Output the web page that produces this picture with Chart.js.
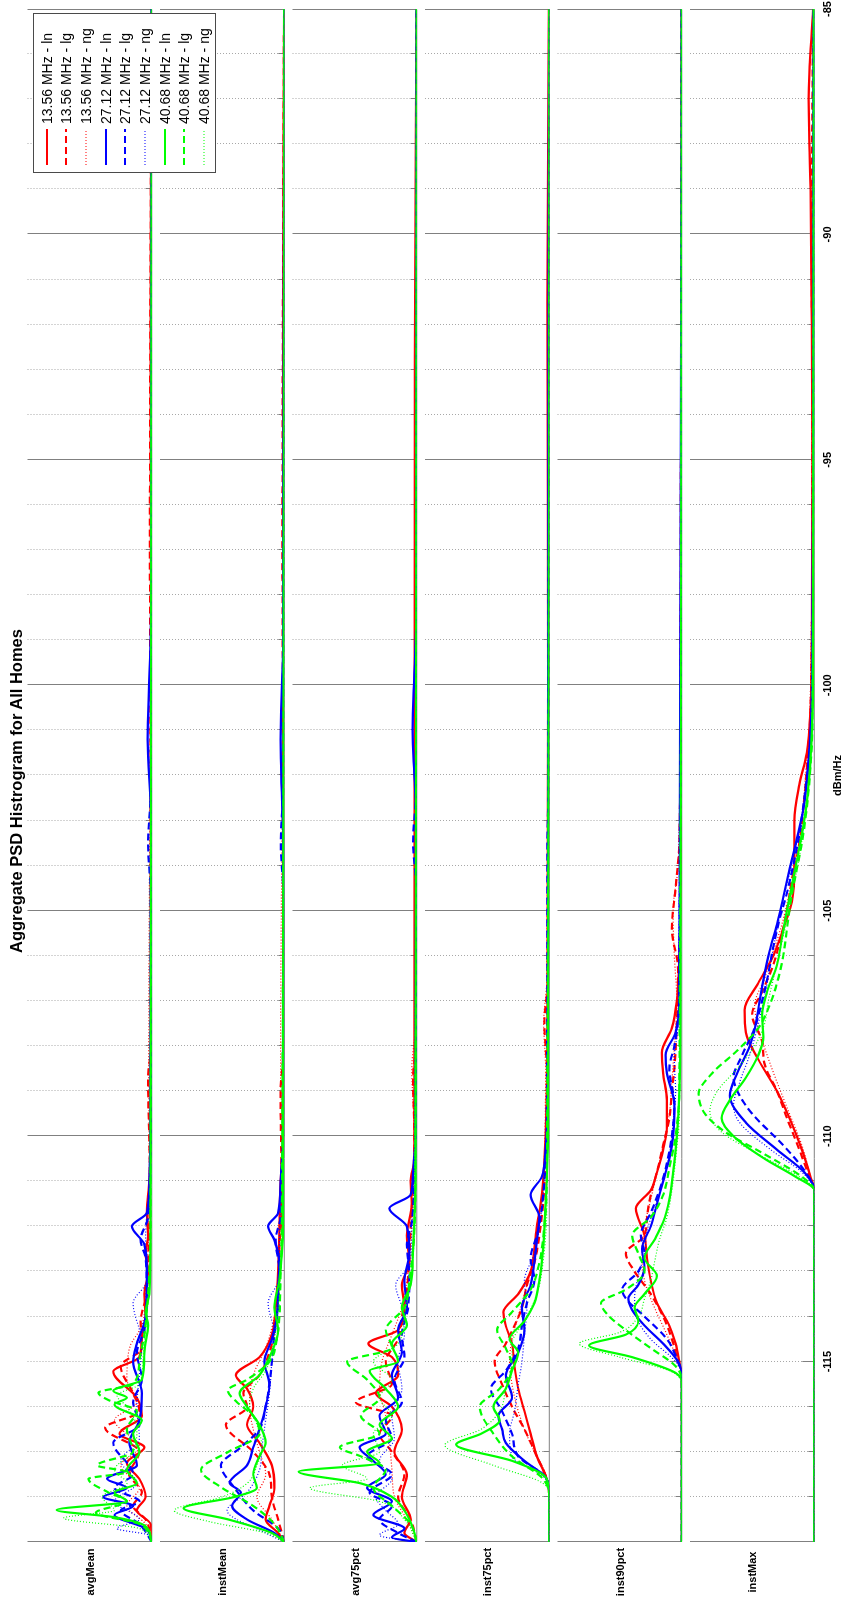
<!DOCTYPE html>
<html>
<head>
<meta charset="utf-8">
<title>Aggregate PSD Histrogram for All Homes</title>
<script src="https://cdn.jsdelivr.net/npm/chart.js@4.4.1/dist/chart.umd.min.js"></script>
<style>
  html, body { margin:0; padding:0; background:#fff; }
  body { width:841px; height:1602px; overflow:hidden; position:relative; }
  /* The figure is laid out landscape and turned a quarter turn counter-clockwise */
  #figure { position:absolute; left:0; top:0; width:1602px; height:841px; background:#fff;
    transform-origin:0 0; transform:translate(0px,1602px) rotate(-90deg);
    font-family:"Liberation Sans", Arial, Helvetica, sans-serif; color:#000; overflow:hidden; }
  #figure canvas { position:absolute; left:0; }
  .fig-title { position:absolute; font-weight:bold; font-size:16.5px; white-space:nowrap; transform:translateX(-50%); }
  .panel-label { position:absolute; font-weight:bold; font-size:11px; white-space:nowrap; transform:translate(-50%,-50%); }
  #legend { position:absolute; border:1px solid #4a4a4a; background:#fff; box-sizing:border-box; z-index:5; }
  .legend-row { position:absolute; left:0; height:20px; width:100%; }
  .legend-row svg { position:absolute; left:6px; top:0; }
  .legend-row span { position:absolute; left:48px; top:0; line-height:20px; font-size:14px; white-space:nowrap; }
</style>
</head>
<body>
<div id="figure"></div>
<script>
// ---- labels ----
const TITLE = 'Aggregate PSD Histrogram for All Homes';
const PANELS = ['avgMean', 'instMean', 'avg75pct', 'inst75pct', 'inst90pct', 'instMax'];
const SERIES = ['13.56 MHz - ln', '13.56 MHz - lg', '13.56 MHz - ng',
                '27.12 MHz - ln', '27.12 MHz - lg', '27.12 MHz - ng',
                '40.68 MHz - ln', '40.68 MHz - lg', '40.68 MHz - ng'];
const X_LABEL = 'dBm/Hz';
const X_MIN = -119, X_MAX = -85;
const X_TICKS = [-115, -110, -105, -100, -95, -90, -85];
const SOLID_GRID = [-110, -105, -100, -95, -90];

// ---- histogram densities, [dBm/Hz, density] per series (order as SERIES) ----
const avgMean = [
  [[-119,0],[-118.6,0.01],[-118.3,0.12],[-118,0.05],[-117.6,0.1],[-117.25,0.2],[-116.9,0.06],[-116.6,0.26],[-116.2,0.08],[-115.8,0.12],[-115.22,0.31],[-114.9,0.1],[-114.5,0.08],[-114,0.05],[-113.5,0.06],[-113,0.03],[-112.6,0.05],[-112.2,0.03],[-111.7,0.04],[-111,0.02],[-110,0.01],[-108,0.01],[-100,0.005],[-92.5,0.01],[-85,0.002]],
  [[-119,0],[-118.5,0.05],[-118.2,0.15],[-117.9,0.08],[-117.5,0.18],[-117,0.1],[-116.47,0.376],[-116.1,0.1],[-115.7,0.15],[-115.1,0.25],[-114.7,0.08],[-114.1,0.09],[-113.5,0.04],[-112.8,0.03],[-112,0.02],[-111,0.015],[-108.7,0.03],[-108,0.005],[-100,0.012],[-97,0.015],[-85,0.002]],
  [[-119,0],[-118.6,0.05],[-118.2,0.2],[-117.8,0.1],[-117.3,0.25],[-116.9,0.1],[-116.3,0.3],[-115.9,0.12],[-115.4,0.2],[-114.7,0.18],[-114.2,0.08],[-113.5,0.05],[-112.5,0.03],[-111,0.02],[-108.5,0.025],[-100,0.01],[-85,0.003]],
  [[-119,0],[-118.7,0.05],[-118.4,0.3],[-118.2,0.15],[-118,0.39],[-117.8,0.2],[-117.6,0.36],[-117.3,0.12],[-116.8,0.18],[-116.3,0.1],[-115.7,0.08],[-115,0.15],[-114.6,0.12],[-114,0.05],[-113,0.04],[-112.4,0.06],[-112,0.16],[-111.7,0.04],[-111,0.02],[-110,0.01],[-103,0.005],[-101.2,0.034],[-99,0.01],[-97,0.005],[-85,0.001]],
  [[-119,0],[-118.6,0.1],[-118.3,0.25],[-118.1,0.1],[-117.8,0.3],[-117.5,0.15],[-116.8,0.31],[-116.4,0.1],[-115.9,0.15],[-115.4,0.08],[-114.8,0.12],[-114.3,0.06],[-113.5,0.04],[-112.7,0.05],[-112.3,0.09],[-111.8,0.03],[-110,0.01],[-104.6,0.01],[-103.5,0.03],[-102.4,0.01],[-85,0.001]],
  [[-119,0],[-118.85,0.02],[-118.7,0.28],[-118.5,0.1],[-118.1,0.3],[-117.7,0.12],[-117.2,0.25],[-116.7,0.1],[-116,0.12],[-115.3,0.1],[-114.6,0.08],[-113.7,0.15],[-113.2,0.04],[-112.3,0.05],[-111,0.02],[-110,0.01],[-85,0.002]],
  [[-119,0],[-118.65,0.05],[-118.45,0.3],[-118.29,0.765],[-118.1,0.2],[-117.9,0.3],[-117.7,0.12],[-117.4,0.2],[-117,0.1],[-116.6,0.15],[-116.3,0.08],[-115.95,0.3],[-115.8,0.2],[-115.65,0.31],[-115.4,0.08],[-114.8,0.06],[-114.2,0.03],[-113.9,0.05],[-113.5,0.02],[-112,0.01],[-85,0]],
  [[-119,0],[-118.6,0.1],[-118.35,0.45],[-118.1,0.2],[-117.9,0.35],[-117.6,0.51],[-117.45,0.2],[-117.3,0.44],[-117,0.15],[-116.5,0.2],[-116.1,0.12],[-115.85,0.35],[-115.69,0.43],[-115.5,0.15],[-115,0.1],[-114.4,0.06],[-113.5,0.03],[-112,0.01],[-85,0]],
  [[-119,0],[-118.7,0.1],[-118.47,0.71],[-118.3,0.3],[-118,0.4],[-117.7,0.2],[-117.4,0.3],[-117,0.15],[-116.5,0.12],[-116,0.2],[-115.75,0.28],[-115.5,0.1],[-114.9,0.07],[-114,0.04],[-113,0.02],[-111,0.01],[-85,0]]
];
const instMean = [
  [[-119,0],[-118.8,0.05],[-118.5,0.15],[-118.2,0.12],[-117.8,0.08],[-117.3,0.1],[-116.8,0.2],[-116.4,0.3],[-116,0.25],[-115.6,0.3],[-115.3,0.39],[-114.9,0.2],[-114.4,0.1],[-113.8,0.07],[-113,0.05],[-112,0.04],[-111,0.03],[-110,0.01],[-92.8,0.01],[-85,0.002]],
  [[-119,0],[-118.5,0.05],[-118,0.1],[-117.5,0.12],[-117,0.25],[-116.4,0.47],[-116,0.3],[-115.7,0.33],[-115.3,0.2],[-114.8,0.12],[-114.3,0.08],[-113.5,0.05],[-112.5,0.04],[-111.5,0.02],[-109,0.03],[-108.2,0.01],[-100,0.012],[-97,0.015],[-85,0.002]],
  [[-119,0],[-118.5,0.1],[-118,0.22],[-117.5,0.15],[-117,0.2],[-116.5,0.25],[-116,0.28],[-115.3,0.25],[-114.7,0.15],[-114,0.08],[-113,0.05],[-112,0.03],[-110,0.015],[-108.5,0.03],[-100,0.01],[-85,0.002]],
  [[-119,0],[-118.8,0.08],[-118.5,0.3],[-118.2,0.42],[-117.9,0.35],[-117.69,0.44],[-117.3,0.3],[-116.9,0.25],[-116.5,0.2],[-116,0.15],[-115.5,0.12],[-115,0.16],[-114.5,0.1],[-114,0.06],[-113.4,0.05],[-112.8,0.04],[-112.3,0.08],[-112,0.13],[-111.7,0.05],[-111,0.03],[-110,0.01],[-104,0.005],[-101.2,0.03],[-99,0.01],[-85,0.001]],
  [[-119,0],[-118.7,0.05],[-118.3,0.25],[-117.8,0.4],[-117.3,0.51],[-116.9,0.35],[-116.5,0.2],[-116,0.15],[-115.5,0.12],[-115,0.1],[-114.4,0.08],[-113.8,0.05],[-113,0.04],[-112.3,0.07],[-111.8,0.03],[-110,0.01],[-104.6,0.01],[-103.5,0.028],[-102.3,0.01],[-85,0.001]],
  [[-119,0],[-118.8,0.15],[-118.3,0.46],[-117.9,0.3],[-117.4,0.2],[-116.9,0.18],[-116.3,0.15],[-115.7,0.12],[-115,0.1],[-114.4,0.08],[-113.7,0.13],[-113.2,0.05],[-112.3,0.04],[-111,0.02],[-85,0.002]],
  [[-119,0],[-118.8,0.1],[-118.5,0.45],[-118.25,0.81],[-118,0.4],[-117.8,0.22],[-117.5,0.25],[-117.1,0.2],[-116.8,0.15],[-116.4,0.2],[-116,0.3],[-115.7,0.36],[-115.3,0.2],[-114.9,0.12],[-114.3,0.05],[-113.8,0.08],[-113.2,0.04],[-112.6,0.02],[-112,0.01],[-85,0]],
  [[-119,0],[-118.6,0.08],[-118.2,0.25],[-117.8,0.5],[-117.4,0.67],[-117,0.45],[-116.6,0.2],[-116.2,0.25],[-115.9,0.38],[-115.64,0.455],[-115.4,0.3],[-115,0.12],[-114.5,0.06],[-114,0.04],[-113,0.03],[-112,0.02],[-85,0]],
  [[-119,0],[-118.8,0.15],[-118.55,0.6],[-118.3,0.885],[-118,0.5],[-117.7,0.3],[-117.3,0.22],[-116.9,0.18],[-116.4,0.22],[-116,0.28],[-115.6,0.25],[-115.2,0.15],[-114.5,0.08],[-113.5,0.04],[-112,0.02],[-85,0]]
];
const avg75pct = [
  [[-119,0],[-118.8,0.1],[-118.5,0.05],[-118,0.12],[-117.5,0.08],[-117,0.18],[-116.5,0.12],[-116,0.2],[-115.7,0.33],[-115.3,0.15],[-114.9,0.2],[-114.6,0.39],[-114.3,0.15],[-113.8,0.1],[-113.3,0.12],[-112.8,0.06],[-112.2,0.08],[-111.5,0.04],[-111,0.05],[-110.5,0.02],[-110,0.02],[-92.8,0.015],[-85,0.002]],
  [[-119,0],[-118.5,0.05],[-118,0.15],[-117.5,0.1],[-117,0.2],[-116.6,0.3],[-116.2,0.2],[-115.9,0.49],[-115.5,0.2],[-115,0.25],[-114.5,0.15],[-114,0.12],[-113.4,0.08],[-112.7,0.06],[-112,0.05],[-111,0.03],[-110,0.02],[-108.7,0.03],[-108,0.01],[-100,0.01],[-85,0.002]],
  [[-119,0],[-118.5,0.08],[-118,0.18],[-117.4,0.2],[-116.8,0.22],[-116.2,0.25],[-115.6,0.3],[-115,0.28],[-114.4,0.2],[-113.8,0.12],[-113,0.07],[-112,0.04],[-110,0.02],[-108.5,0.04],[-107.5,0.01],[-100,0.01],[-85,0.003]],
  [[-119,0],[-118.9,0.2],[-118.7,0.1],[-118.4,0.35],[-118.1,0.2],[-117.8,0.4],[-117.5,0.25],[-117.2,0.35],[-116.9,0.46],[-116.6,0.25],[-116.2,0.3],[-115.8,0.15],[-115.3,0.2],[-114.8,0.12],[-114.3,0.15],[-113.8,0.08],[-113.2,0.1],[-112.6,0.06],[-112,0.08],[-111.6,0.22],[-111.3,0.05],[-110.8,0.03],[-110,0.01],[-103,0.005],[-101,0.034],[-98.5,0.005],[-85,0.001]],
  [[-119,0],[-118.8,0.15],[-118.5,0.3],[-118.2,0.2],[-117.9,0.38],[-117.5,0.2],[-117.1,0.4],[-116.7,0.2],[-116.3,0.25],[-115.9,0.12],[-115.4,0.18],[-114.9,0.1],[-114.4,0.12],[-113.8,0.07],[-113.1,0.06],[-112.4,0.08],[-111.9,0.04],[-111,0.02],[-110,0.01],[-104.5,0.005],[-103.5,0.03],[-102.3,0.005],[-85,0.001]],
  [[-119,0],[-118.85,0.3],[-118.6,0.15],[-118.3,0.25],[-118,0.33],[-117.6,0.2],[-117.2,0.3],[-116.7,0.18],[-116.2,0.2],[-115.6,0.12],[-115,0.15],[-114.4,0.1],[-113.8,0.12],[-113.3,0.17],[-112.8,0.05],[-112,0.04],[-111,0.02],[-85,0.002]],
  [[-119,0],[-118.7,0.03],[-118.3,0.1],[-118,0.2],[-117.7,0.45],[-117.44,0.95],[-117.25,0.3],[-117,0.4],[-116.7,0.2],[-116.4,0.3],[-116,0.15],[-115.6,0.25],[-115.2,0.38],[-115,0.15],[-114.6,0.2],[-114.2,0.08],[-113.8,0.12],[-113.3,0.05],[-112.5,0.03],[-111,0.01],[-85,0]],
  [[-119,0],[-118.6,0.05],[-118.2,0.2],[-117.8,0.35],[-117.4,0.25],[-117.1,0.45],[-116.9,0.62],[-116.6,0.3],[-116.2,0.45],[-115.8,0.3],[-115.4,0.4],[-115,0.56],[-114.7,0.2],[-114.3,0.25],[-113.8,0.1],[-113.2,0.06],[-112.5,0.03],[-111,0.01],[-85,0]],
  [[-119,0],[-118.5,0.1],[-118.1,0.3],[-117.8,0.86],[-117.6,0.4],[-117.3,0.6],[-117,0.3],[-116.6,0.35],[-116.2,0.2],[-115.8,0.3],[-115.4,0.2],[-115,0.35],[-114.6,0.15],[-114,0.1],[-113.2,0.05],[-112,0.02],[-85,0]]
];
const inst75pct = [
  [[-119,0],[-118,0],[-117.6,0.02],[-117.1,0.1],[-116.6,0.15],[-116.1,0.2],[-115.6,0.25],[-115.1,0.28],[-114.6,0.3],[-114.2,0.35],[-113.9,0.37],[-113.5,0.25],[-113,0.15],[-112.5,0.12],[-112,0.1],[-111.5,0.07],[-111,0.05],[-110,0.03],[-109,0.02],[-108,0.015],[-100,0.01],[-91.5,0.015],[-85,0.003]],
  [[-119,0],[-118,0],[-117.6,0.02],[-117.1,0.1],[-116.5,0.2],[-116,0.3],[-115.5,0.38],[-115,0.44],[-114.6,0.35],[-114.2,0.28],[-113.8,0.22],[-113.3,0.18],[-112.8,0.12],[-112.2,0.08],[-111.5,0.05],[-110.5,0.03],[-108.5,0.02],[-107.5,0.04],[-106.5,0.01],[-85,0.002]],
  [[-119,0],[-118,0],[-117.5,0.03],[-117,0.12],[-116.5,0.2],[-116,0.26],[-115.5,0.3],[-115,0.32],[-114.5,0.3],[-114,0.25],[-113.5,0.2],[-113,0.15],[-112.3,0.1],[-111.5,0.06],[-110.5,0.04],[-108.5,0.03],[-107.5,0.045],[-106.5,0.02],[-85,0.003]],
  [[-119,0],[-118,0],[-117.6,0.02],[-117.2,0.2],[-116.8,0.35],[-116.5,0.38],[-116.2,0.41],[-115.8,0.3],[-115.3,0.35],[-114.8,0.25],[-114.3,0.2],[-113.8,0.22],[-113.3,0.15],[-112.8,0.12],[-112.3,0.1],[-111.8,0.08],[-111.3,0.15],[-110.9,0.06],[-110.3,0.03],[-109,0.01],[-101,0.01],[-85,0.001]],
  [[-119,0],[-118,0],[-117.6,0.02],[-117.1,0.25],[-116.6,0.3],[-116.1,0.38],[-115.6,0.47],[-115.2,0.35],[-114.7,0.25],[-114.2,0.22],[-113.7,0.18],[-113.2,0.12],[-112.7,0.15],[-112.2,0.1],[-111.6,0.06],[-111,0.04],[-110,0.02],[-103.5,0.015],[-102,0.005],[-85,0.001]],
  [[-119,0],[-118,0],[-117.6,0.03],[-117.1,0.3],[-116.6,0.32],[-116.1,0.28],[-115.5,0.25],[-115,0.22],[-114.4,0.2],[-113.8,0.18],[-113.2,0.2],[-112.6,0.12],[-112,0.08],[-111.3,0.05],[-110.5,0.03],[-109,0.01],[-85,0.001]],
  [[-119,0],[-118,0],[-117.6,0.02],[-117.2,0.3],[-116.84,0.75],[-116.6,0.55],[-116.3,0.4],[-116,0.45],[-115.6,0.35],[-115.2,0.3],[-114.8,0.25],[-114.5,0.32],[-114.1,0.2],[-113.7,0.12],[-113.2,0.08],[-112.5,0.05],[-111.5,0.03],[-110,0.01],[-85,0]],
  [[-119,0],[-118,0],[-117.6,0.05],[-117.1,0.3],[-116.6,0.45],[-116,0.56],[-115.6,0.4],[-115.1,0.3],[-114.7,0.35],[-114.3,0.42],[-113.9,0.3],[-113.4,0.15],[-112.8,0.08],[-112,0.04],[-111,0.02],[-85,0]],
  [[-119,0],[-118,0],[-117.7,0.05],[-117.3,0.45],[-116.85,0.84],[-116.5,0.55],[-116.1,0.4],[-115.6,0.35],[-115.1,0.3],[-114.6,0.3],[-114.1,0.2],[-113.5,0.1],[-112.8,0.05],[-111.5,0.02],[-85,0]]
];
const inst90pct = [
  [[-119,0],[-115.3,0],[-115,0.02],[-114.6,0.05],[-114.2,0.1],[-113.7,0.2],[-113.2,0.25],[-112.7,0.28],[-112.2,0.3],[-111.6,0.37],[-111.2,0.25],[-110.8,0.2],[-110.3,0.15],[-109.8,0.12],[-109.2,0.12],[-108.6,0.15],[-108.15,0.16],[-107.6,0.08],[-107,0.04],[-106,0.02],[-104,0.01],[-85,0.002]],
  [[-119,0],[-115.3,0],[-115,0.03],[-114.5,0.08],[-114,0.15],[-113.5,0.25],[-113,0.38],[-112.6,0.45],[-112.2,0.3],[-111.8,0.28],[-111.3,0.25],[-110.8,0.2],[-110.2,0.15],[-109.6,0.1],[-109,0.08],[-108.5,0.06],[-107.5,0.04],[-106.3,0.03],[-105.4,0.08],[-104.5,0.05],[-103.5,0.02],[-100,0.01],[-85,0.002]],
  [[-119,0],[-115.3,0],[-115,0.03],[-114.4,0.12],[-113.8,0.22],[-113.2,0.3],[-112.6,0.32],[-112,0.3],[-111.4,0.25],[-110.8,0.2],[-110.2,0.15],[-109.5,0.1],[-108.8,0.08],[-108,0.06],[-107,0.04],[-106,0.06],[-105,0.07],[-104,0.03],[-100,0.01],[-85,0.003]],
  [[-119,0],[-115.3,0],[-115,0.03],[-114.6,0.15],[-114.2,0.3],[-113.85,0.4],[-113.6,0.43],[-113.3,0.35],[-112.9,0.3],[-112.5,0.32],[-112,0.25],[-111.5,0.2],[-111,0.15],[-110.5,0.1],[-110,0.07],[-109.3,0.06],[-108.6,0.12],[-108.2,0.13],[-107.7,0.05],[-107,0.02],[-85,0.001]],
  [[-119,0],[-115.3,0],[-115,0.03],[-114.5,0.12],[-114,0.3],[-113.6,0.45],[-113.4,0.48],[-113,0.35],[-112.6,0.3],[-112.2,0.33],[-111.7,0.25],[-111.2,0.18],[-110.6,0.12],[-110,0.08],[-109.3,0.06],[-108.5,0.1],[-108,0.06],[-107,0.02],[-85,0.001]],
  [[-119,0],[-115.3,0],[-115,0.05],[-114.5,0.25],[-114.1,0.35],[-113.6,0.38],[-113.1,0.35],[-112.6,0.3],[-112.1,0.28],[-111.6,0.22],[-111,0.15],[-110.4,0.1],[-109.7,0.07],[-109,0.05],[-108.3,0.06],[-107.5,0.03],[-85,0.001]],
  [[-119,0],[-115.5,0],[-115.25,0.05],[-114.9,0.4],[-114.64,0.745],[-114.4,0.45],[-114.1,0.35],[-113.8,0.38],[-113.5,0.3],[-113.1,0.2],[-112.7,0.3],[-112.3,0.22],[-111.9,0.15],[-111.4,0.1],[-110.8,0.07],[-110,0.04],[-109,0.02],[-107,0.01],[-85,0]],
  [[-119,0],[-115.4,0],[-115.1,0.05],[-114.7,0.25],[-114.3,0.45],[-113.95,0.6],[-113.7,0.65],[-113.4,0.45],[-113,0.3],[-112.6,0.35],[-112.2,0.4],[-111.8,0.25],[-111.3,0.15],[-110.7,0.1],[-110,0.05],[-109,0.02],[-85,0]],
  [[-119,0],[-115.5,0],[-115.2,0.1],[-114.9,0.5],[-114.6,0.825],[-114.35,0.5],[-114,0.35],[-113.6,0.3],[-113.2,0.25],[-112.8,0.22],[-112.3,0.18],[-111.8,0.12],[-111.2,0.08],[-110.5,0.05],[-109.5,0.02],[-85,0]]
];
const instMax = [
  [[-119,0],[-111.2,0],[-110.9,0.03],[-110.3,0.1],[-109.6,0.2],[-109,0.3],[-108.3,0.45],[-107.7,0.55],[-107.2,0.56],[-106.6,0.45],[-106,0.33],[-105.4,0.25],[-104.8,0.18],[-104,0.16],[-103,0.16],[-102.2,0.12],[-101.5,0.06],[-100.5,0.03],[-99,0.02],[-95,0.015],[-92,0.02],[-89,0.03],[-87,0.045],[-85,0.01]],
  [[-119,0],[-111.2,0],[-110.9,0.04],[-110.3,0.12],[-109.6,0.22],[-109,0.3],[-108.4,0.4],[-107.9,0.42],[-107.3,0.5],[-106.8,0.42],[-106.2,0.33],[-105.6,0.27],[-105,0.22],[-104.3,0.18],[-103.5,0.12],[-102.5,0.08],[-101.5,0.05],[-100.5,0.03],[-99,0.02],[-95,0.015],[-90,0.02],[-85,0.01]],
  [[-119,0],[-111.2,0],[-110.9,0.03],[-110.2,0.1],[-109.5,0.2],[-108.8,0.3],[-108.2,0.38],[-107.6,0.45],[-107.1,0.48],[-106.5,0.4],[-105.9,0.33],[-105.3,0.26],[-104.6,0.2],[-104,0.15],[-103,0.1],[-102,0.07],[-101,0.04],[-100,0.03],[-97,0.02],[-93,0.02],[-89,0.015],[-85,0.01]],
  [[-119,0],[-111.2,0],[-110.8,0.08],[-110.3,0.3],[-109.7,0.55],[-109.1,0.68],[-108.6,0.62],[-108,0.52],[-107.5,0.47],[-107,0.44],[-106.4,0.4],[-105.9,0.36],[-105.3,0.3],[-104.7,0.25],[-104.1,0.2],[-103.4,0.14],[-102.6,0.08],[-101.8,0.05],[-101,0.03],[-99,0.015],[-94,0.01],[-85,0.005]],
  [[-119,0],[-111.2,0],[-110.8,0.07],[-110.2,0.25],[-109.5,0.5],[-109,0.62],[-108.7,0.65],[-108.2,0.58],[-107.6,0.48],[-107,0.42],[-106.4,0.37],[-105.8,0.33],[-105.2,0.28],[-104.6,0.22],[-104,0.17],[-103.3,0.12],[-102.5,0.08],[-101.5,0.04],[-100.5,0.02],[-98,0.01],[-85,0.005]],
  [[-119,0],[-111.2,0],[-110.8,0.1],[-110.3,0.35],[-109.7,0.6],[-109.33,0.65],[-108.8,0.6],[-108.2,0.52],[-107.5,0.45],[-106.9,0.4],[-106.3,0.36],[-105.7,0.32],[-105,0.27],[-104.4,0.22],[-103.7,0.16],[-103,0.1],[-102.2,0.06],[-101.3,0.03],[-100,0.015],[-85,0.005]],
  [[-119,0],[-111.2,0],[-110.9,0.15],[-110.5,0.4],[-110,0.65],[-109.6,0.745],[-109.2,0.68],[-108.7,0.55],[-108.2,0.45],[-107.8,0.41],[-107.3,0.42],[-106.8,0.38],[-106.2,0.3],[-105.6,0.26],[-105,0.22],[-104.3,0.17],[-103.6,0.12],[-102.8,0.07],[-102,0.04],[-101,0.02],[-100,0.01],[-85,0.003]],
  [[-119,0],[-111.2,0],[-110.9,0.1],[-110.4,0.4],[-109.9,0.72],[-109.5,0.88],[-109.06,0.93],[-108.6,0.82],[-108.1,0.62],[-107.6,0.45],[-107.1,0.36],[-106.6,0.3],[-106,0.25],[-105.4,0.22],[-104.8,0.19],[-104.2,0.15],[-103.5,0.1],[-102.7,0.06],[-101.8,0.03],[-100.8,0.015],[-85,0.003]],
  [[-119,0],[-111.2,0],[-110.9,0.12],[-110.4,0.45],[-109.9,0.75],[-109.44,0.84],[-109,0.78],[-108.5,0.62],[-108,0.48],[-107.5,0.4],[-107,0.37],[-106.4,0.32],[-105.8,0.27],[-105.2,0.22],[-104.5,0.17],[-103.8,0.12],[-103,0.08],[-102,0.04],[-101,0.02],[-85,0.003]]
];
const PANEL_DATA = [avgMean, instMean, avg75pct, inst75pct, inst90pct, instMax];

// ---- series styles: red / blue / green, solid / dashed / dotted ----
const COLORS = ['#ff0000', '#ff0000', '#ff0000', '#0000ff', '#0000ff', '#0000ff', '#00ff00', '#00ff00', '#00ff00'];
const DASHES = [[], [7, 4], [1, 2], [], [7, 4], [1, 2], [], [7, 4], [1, 2]];
const WIDTHS = [2.2, 2.2, 1.2, 2.2, 2.2, 1.2, 2.2, 2.2, 1.2];

// ---- geometry of the landscape figure (px) ----
const FIG_W = 1602;
const PLOT_LEFT = 60, PLOT_RIGHT = 1593;
const PANEL_TOP0 = 27.5, PANEL_STEP = 132.5, PANEL_H = 124.3;
const AXIS_H = 30.5;
const FONT = '"Liberation Sans", Arial, Helvetica, sans-serif';

// grid, inward tick marks and frame edges of each panel
const panelFrame = {
  id: 'panelFrame',
  beforeDatasetsDraw(chart) {
    const { ctx, chartArea: a, scales: { x } } = chart;
    ctx.save();
    ctx.lineWidth = 1;
    for (let v = X_MIN + 1; v < X_MAX; v++) {
      const px = Math.round(x.getPixelForValue(v)) + 0.5;
      const solid = SOLID_GRID.includes(v);
      ctx.strokeStyle = solid ? '#808080' : '#a8a8a8';
      ctx.setLineDash(solid ? [] : [1, 2]);
      ctx.beginPath(); ctx.moveTo(px, a.top); ctx.lineTo(px, a.bottom); ctx.stroke();
      ctx.setLineDash([]);
      ctx.strokeStyle = '#808080';
      const len = v % 5 === 0 ? 12 : 6;
      ctx.beginPath(); ctx.moveTo(px, a.bottom); ctx.lineTo(px, a.bottom - len); ctx.stroke();
    }
    const l = Math.round(x.getPixelForValue(X_MIN)) + 0.5;
    const r = Math.round(x.getPixelForValue(X_MAX)) - 0.5;
    ctx.strokeStyle = '#808080';
    ctx.beginPath();
    ctx.moveTo(l, a.top); ctx.lineTo(l, a.bottom);
    ctx.moveTo(r, a.top); ctx.lineTo(r, a.bottom);
    ctx.moveTo(l, a.bottom); ctx.lineTo(r, a.bottom);
    ctx.stroke();
    ctx.restore();
  }
};

const fig = document.getElementById('figure');

PANELS.forEach((name, p) => {
  const last = p === PANELS.length - 1;
  const top = PANEL_TOP0 + p * PANEL_STEP;
  const cTop = Math.floor(top) - 4;
  const padTop = top - cTop;
  const extra = last ? AXIS_H : 5;
  const cH = Math.ceil(padTop + PANEL_H + extra);
  const padBottom = cH - padTop - PANEL_H - (last ? AXIS_H : 0);

  const canvas = document.createElement('canvas');
  canvas.width = FIG_W; canvas.height = cH;
  canvas.style.top = cTop + 'px';
  canvas.style.width = FIG_W + 'px'; canvas.style.height = cH + 'px';
  fig.appendChild(canvas);

  const xScale = {
    type: 'linear', min: X_MIN, max: X_MAX, position: 'bottom', display: last,
    grid: { display: false, drawTicks: false },
    border: { display: false },
    ticks: { color: '#000', font: { family: FONT, size: 11, weight: 'bold' }, padding: 7, maxRotation: 0, autoSkip: false },
    title: { display: true, text: X_LABEL, color: '#000', font: { family: FONT, size: 11, weight: 'bold' }, padding: 0 }
  };
  if (last) {
    xScale.afterBuildTicks = axis => { axis.ticks = X_TICKS.map(v => ({ value: v })); };
    xScale.afterFit = axis => { axis.height = AXIS_H; axis.paddingLeft = 0; axis.paddingRight = 0; };
  }

  new Chart(canvas, {
    type: 'line',
    data: {
      datasets: PANEL_DATA[p].map((pts, k) => ({
        label: SERIES[k],
        data: pts.map(([x, y]) => ({ x, y })),
        borderColor: COLORS[k],
        borderWidth: WIDTHS[k],
        borderDash: DASHES[k],
        pointRadius: 0,
        fill: false,
        cubicInterpolationMode: 'monotone',
        order: -k
      }))
    },
    options: {
      responsive: false,
      animation: false,
      events: [],
      devicePixelRatio: 1,
      layout: { padding: { left: PLOT_LEFT, right: FIG_W - PLOT_RIGHT, top: padTop, bottom: padBottom } },
      plugins: { legend: { display: false }, tooltip: { enabled: false }, title: { display: false } },
      scales: {
        x: xScale,
        y: { type: 'linear', min: 0, max: 1, display: false }
      }
    },
    plugins: [panelFrame]
  });

  const lab = document.createElement('div');
  lab.className = 'panel-label';
  lab.textContent = name;
  lab.style.left = '30px';
  lab.style.top = (top + PANEL_H / 2) + 'px';
  fig.appendChild(lab);
});

// figure title
const t = document.createElement('div');
t.className = 'fig-title';
t.textContent = TITLE;
t.style.left = '811px';
t.style.top = '7px';
fig.appendChild(t);

// legend, placed in the upper-right corner of the first panel
const legend = document.createElement('div');
legend.id = 'legend';
legend.style.left = '1429px'; legend.style.top = '33px';
legend.style.width = '160px'; legend.style.height = '183px';
SERIES.forEach((s, k) => {
  const row = document.createElement('div');
  row.className = 'legend-row';
  row.style.top = (2.5 + 19.7 * k) + 'px';
  const dash = DASHES[k].length ? ` stroke-dasharray="${DASHES[k].join(' ')}"` : '';
  row.innerHTML = `<svg width="38" height="20"><line x1="1" y1="10" x2="37" y2="10" stroke="${COLORS[k]}" stroke-width="${WIDTHS[k]}"${dash}/></svg><span>${s}</span>`;
  legend.appendChild(row);
});
fig.appendChild(legend);
</script>
</body>
</html>
